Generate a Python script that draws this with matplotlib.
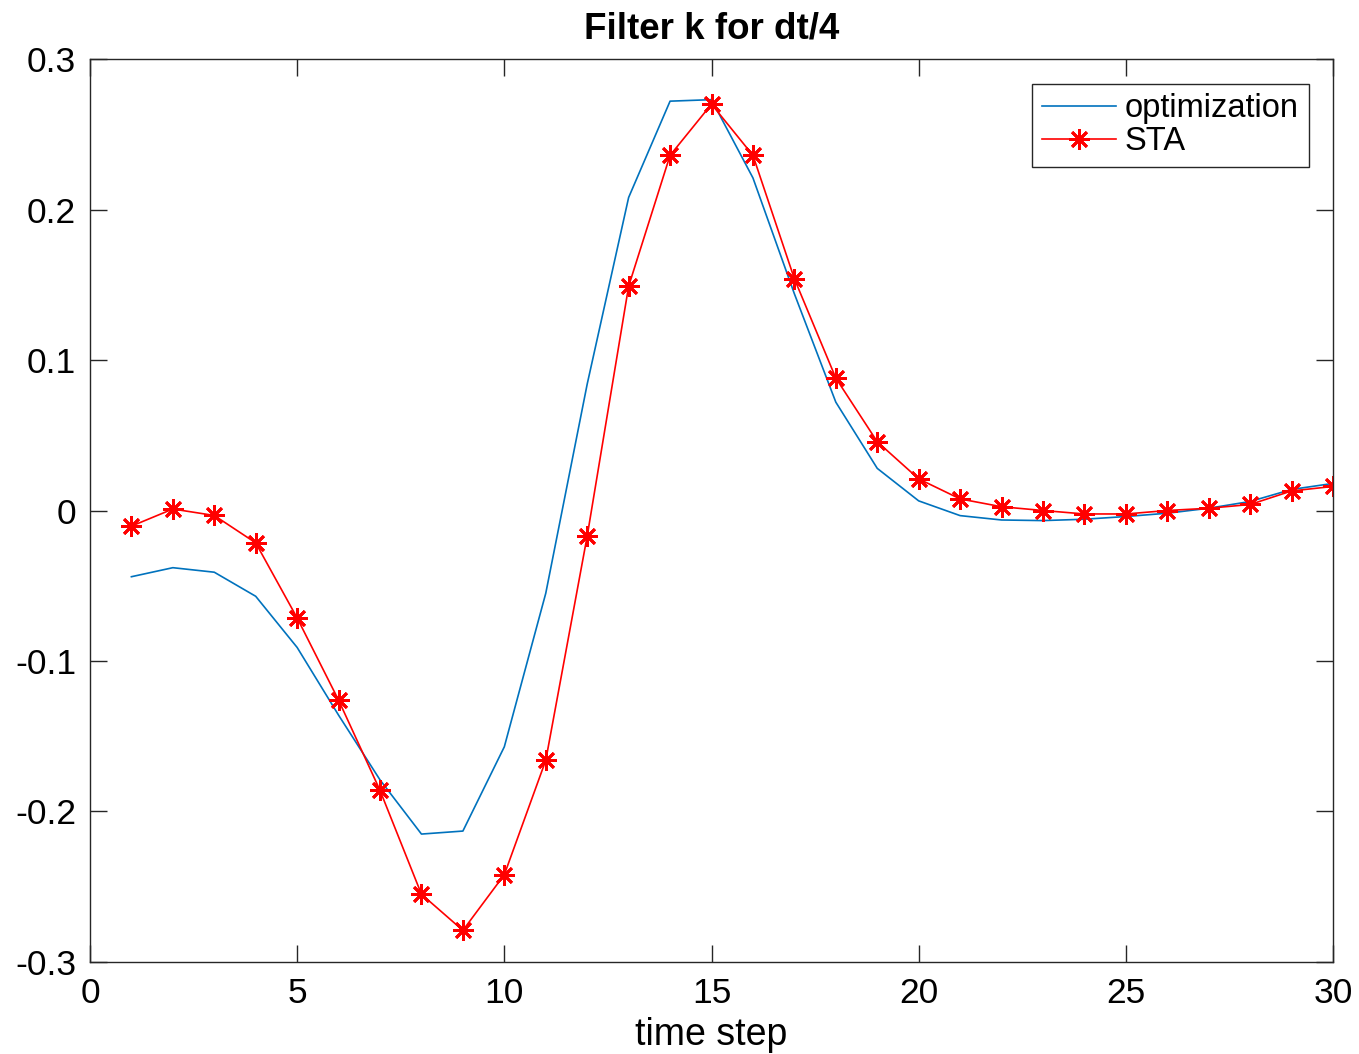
import matplotlib.pyplot as plt

plt.rcParams['font.family'] = ['Liberation Sans', 'DejaVu Sans']

# time steps
t = list(range(1, 31))

# optimization filter (blue line)
k_opt = [-0.044, -0.038, -0.041, -0.057, -0.091, -0.136, -0.179, -0.215, -0.213, -0.157,
         -0.055, 0.084, 0.208, 0.272, 0.273, 0.221, 0.144, 0.072, 0.028, 0.0064,
         -0.0034, -0.0063, -0.0067, -0.0058, -0.004, -0.0018, 0.0015, 0.006, 0.014, 0.018]

# spike triggered average (red stars)
k_sta = [-0.0104, 0.001, -0.0033, -0.0215, -0.0714, -0.126, -0.186, -0.255, -0.279, -0.242,
         -0.166, -0.017, 0.149, 0.236, 0.270, 0.236, 0.154, 0.088, 0.0457, 0.021,
         0.0077, 0.0025, 0.0, -0.0023, -0.0023, 0.0, 0.0015, 0.004, 0.013, 0.016]

xticks = [0, 5, 10, 15, 20, 25, 30]
yticks = [-0.3, -0.2, -0.1, 0, 0.1, 0.2, 0.3]
yticklabels = ['-0.3', '-0.2', '-0.1', '0', '0.1', '0.2', '0.3']

fig = plt.figure(figsize=(13.59, 10.54), dpi=100)
ax = fig.add_axes([0.0662, 0.0873, 0.9147, 0.8567])

ax.plot(t, k_opt, color='#0072BD', lw=1.2, label='optimization')
ax.plot(t, k_sta, color='red', lw=1.2, marker=(8, 2, 0), markersize=15,
        markeredgewidth=2, label='STA')

ax.set_xlim(0, 30)
ax.set_ylim(-0.3, 0.3)
ax.set_xticks(xticks)
ax.set_yticks(yticks)
ax.set_yticklabels(yticklabels)

# MATLAB-ish axes: ticks inside on all sides
ax.tick_params(direction='in', length=12, width=1, top=True, right=True,
               labelsize=25.5, colors='#262626', labelcolor='black')
ax.tick_params(axis='x', pad=11)
ax.tick_params(axis='y', pad=10)
for s in ax.spines.values():
    s.set_color('#262626')
    s.set_linewidth(1)

ax.set_xlabel('time step', fontsize=27, labelpad=5)
ax.set_title('Filter k for dt/4', fontsize=26.5, fontweight='bold', pad=15)

leg = ax.legend(loc='upper right', fontsize=23.5,
                fancybox=False, framealpha=1, edgecolor='#262626',
                handlelength=2.25, handletextpad=0.28, borderpad=0.3,
                labelspacing=0.05, borderaxespad=0.75)
leg.get_frame().set_linewidth(1)

plt.savefig('out.png', dpi=100)
